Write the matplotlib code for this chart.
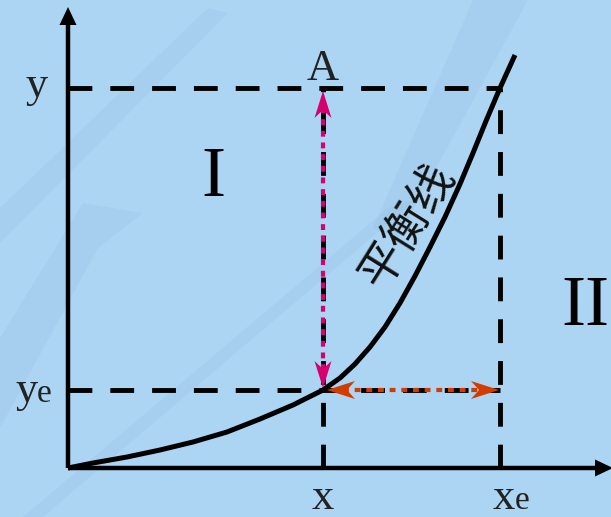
import numpy as np
import matplotlib
matplotlib.use("Agg")
import matplotlib.pyplot as plt
from matplotlib.patches import Polygon

# equilibrium curve (plot units, origin at axes corner)
curve_x = [0.00, 0.25, 0.59, 0.92, 1.25, 1.59, 1.92, 2.25, 2.55, 2.72, 2.87,
           3.02, 3.17, 3.32, 3.47, 3.62, 3.77, 3.92, 4.05, 4.18, 4.32, 4.47]
curve_y = [0.00, 0.05, 0.11, 0.18, 0.26, 0.36, 0.49, 0.63, 0.78, 0.90, 1.04,
           1.21, 1.41, 1.65, 1.92, 2.21, 2.51, 2.84, 3.15, 3.47, 3.80, 4.13]

# marked points
x_val, xe_val = 2.55, 4.32
y_val, ye_val = 3.80, 0.78

axis_top = 4.61
axis_right = 5.45

bg_color = "#acd4f3"
band_color = "#8ab4d8"
pink = "#d6006e"
orange = "#d23c00"
serif = "Liberation Serif"
cjk = ["Noto Sans CJK SC", "DejaVu Sans"]


def head(ax, tip, direction, length, width, notch, color, z=6):
    # arrow head polygon, plot units are isotropic (100 px each)
    d = np.array(direction, dtype=float)
    d = d / np.linalg.norm(d)
    n = np.array([-d[1], d[0]])
    tip = np.array(tip, dtype=float)
    base = tip - d * length
    pts = [tip, base + n * width / 2, tip - d * (length - notch), base - n * width / 2]
    ax.add_patch(Polygon(pts, closed=True, color=color, lw=0, zorder=z))


def main():
    fig = plt.figure(figsize=(6.11, 5.17), dpi=100)
    fig.patch.set_facecolor(bg_color)
    ax = fig.add_axes([0, 0, 1, 1])
    ax.set_facecolor(bg_color)
    ax.set_xlim(-0.68, 5.43)
    ax.set_ylim(-0.49, 4.68)
    ax.axis("off")

    # faint background streaks
    bands = [
        [(-0.68, 2.60), (1.4, 4.60), (1.6, 4.55), (-0.68, 2.25)],
        [(-0.45, -0.49), (3.2, 2.60), (3.5, 2.70), (-0.25, -0.49)],
        [(-0.68, 0.40), (0.30, 2.20), (0.75, 2.55), (0.15, 2.65), (-0.68, 1.30)],
        [(4.05, 4.68), (4.60, 4.68), (3.30, 2.30), (3.05, 2.40)],
    ]
    for b in bands:
        ax.add_patch(Polygon(b, closed=True, color=band_color, alpha=0.16, lw=0, zorder=0))

    # axes with arrows
    ax.plot([0, 0], [0, axis_top - 0.15], color="black", lw=3.2, zorder=4,
            solid_capstyle="butt")
    ax.plot([0, axis_right - 0.15], [0, 0], color="black", lw=3.2, zorder=4,
            solid_capstyle="butt")
    head(ax, (0, axis_top), (0, 1), 0.18, 0.17, 0.0, "black")
    head(ax, (axis_right, 0), (1, 0), 0.18, 0.17, 0.0, "black")

    # dashed guide lines
    dash = (0, (4.9, 3.7))
    ax.plot([0, xe_val], [y_val, y_val], color="black", lw=3.5, ls=dash, zorder=2)
    ax.plot([0, xe_val], [ye_val, ye_val], color="black", lw=3.5, ls=dash, zorder=2)
    ax.plot([x_val, x_val], [0, y_val], color="black", lw=3.5, ls=dash, zorder=2)
    ax.plot([xe_val, xe_val], [0, y_val], color="black", lw=3.5, ls=dash, zorder=2)

    # equilibrium line
    ax.plot(curve_x, curve_y, color="black", lw=3.6, zorder=5,
            solid_capstyle="butt", solid_joinstyle="round")

    # double arrows
    dots = (0, (1.4, 1.4))
    ax.plot([x_val, x_val], [ye_val + 0.2, y_val - 0.2], color=pink, lw=3.0, ls=dots, zorder=6)
    head(ax, (x_val, y_val - 0.03), (0, 1), 0.27, 0.17, 0.08, pink)
    head(ax, (x_val, ye_val + 0.02), (0, -1), 0.27, 0.17, 0.08, pink)

    ax.plot([x_val + 0.2, xe_val - 0.2], [ye_val, ye_val], color=orange, lw=3.0, ls=dots, zorder=6)
    head(ax, (x_val + 0.04, ye_val), (-1, 0), 0.28, 0.18, 0.08, orange)
    head(ax, (xe_val - 0.01, ye_val), (1, 0), 0.28, 0.18, 0.08, orange)

    # labels
    ax.text(-0.31, y_val - 0.09, "y", fontsize=32, family=serif, ha="center",
            va="baseline", color="#222222")
    ax.text(-0.53, ye_val - 0.12, "y", fontsize=32, family=serif, ha="left",
            va="baseline", color="#222222")
    ax.text(-0.31, ye_val - 0.12, "e", fontsize=24, family=serif, ha="left",
            va="baseline", color="#222222")
    ax.text(x_val, -0.41, "x", fontsize=32, family=serif, ha="center",
            va="baseline", color="#222222")
    ax.text(xe_val - 0.07, -0.41, "x", fontsize=32, family=serif, ha="left",
            va="baseline", color="#222222")
    ax.text(xe_val + 0.15, -0.41, "e", fontsize=24, family=serif, ha="left",
            va="baseline", color="#222222")
    ax.text(x_val, 3.88, "A", fontsize=32, family=serif, ha="center",
            va="baseline", color="#222222")
    ax.text(1.45, 2.72, "I", fontsize=52, family=serif, ha="center",
            va="baseline", color="black")
    ax.text(5.41, 1.43, "II", fontsize=52, family=serif, ha="right",
            va="baseline", color="black")
    ax.text(3.39, 2.42, "平衡线", fontsize=33, family=cjk, rotation=58,
            rotation_mode="anchor", ha="center", va="center", color="#111111")

    plt.savefig("out.png", dpi=100, facecolor=bg_color)


if __name__ == "__main__":
    main()
